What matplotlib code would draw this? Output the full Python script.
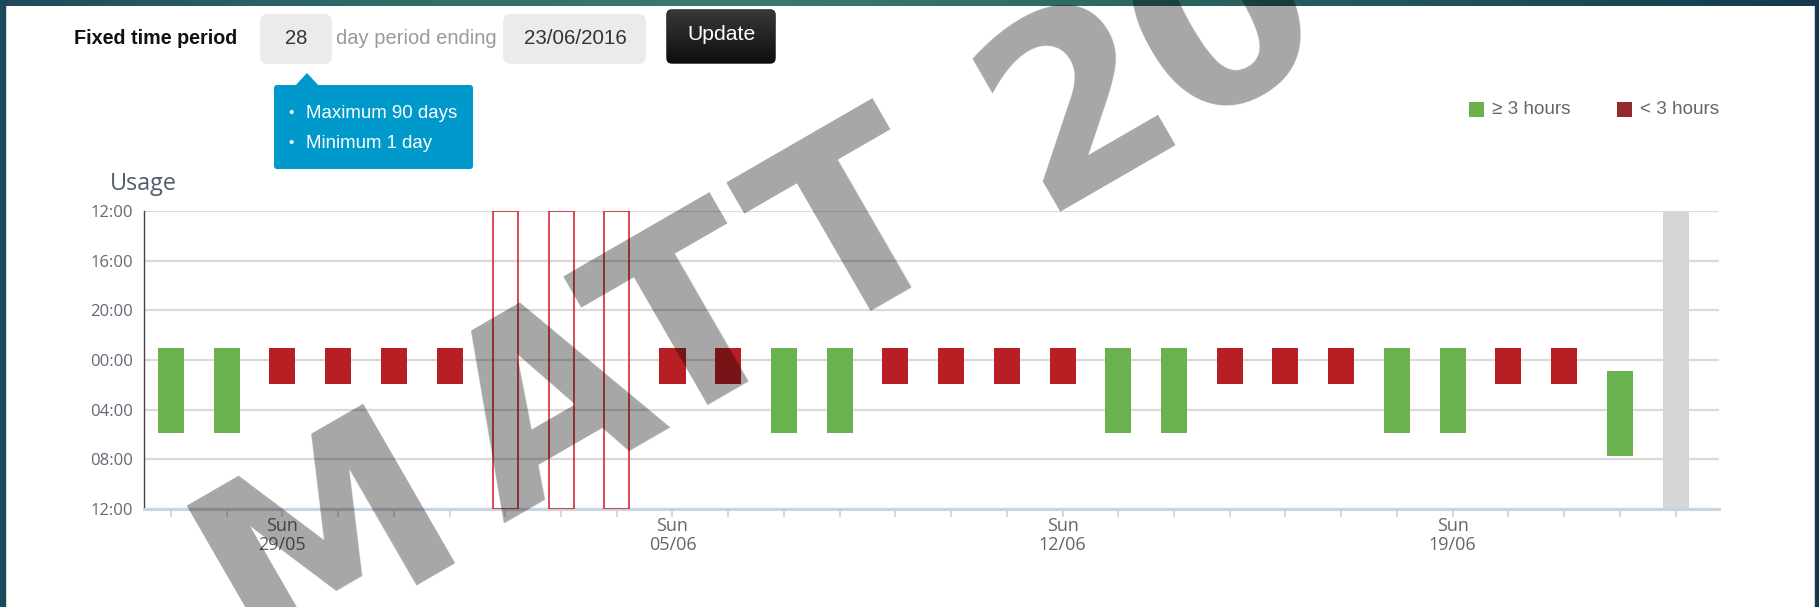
import matplotlib
matplotlib.use("Agg")
import matplotlib.pyplot as plt
import numpy as np
import pandas as pd
from matplotlib.patches import Rectangle, FancyBboxPatch, Polygon
from matplotlib.colors import LinearSegmentedColormap

# ---------------- data ----------------
days = pd.date_range("2016-05-27", "2016-06-23", freq="D")
status = ["good", "good", "short", "short", "short", "short",
          "missing", "missing", "missing",
          "short", "short", "good", "good",
          "short", "short", "short", "short", "good", "good",
          "short", "short", "short", "good", "good",
          "short", "short", "good", "today"]
# hours relative to midnight (negative = previous evening)
sleep_start = [-1.0, -1.0, -1.0, -1.0, -1.0, -1.0,
               np.nan, np.nan, np.nan,
               -1.0, -1.0, -1.0, -1.0,
               -1.0, -1.0, -1.0, -1.0, -1.0, -1.0,
               -1.0, -1.0, -1.0, -1.0, -1.0,
               -1.0, -1.0, 0.9, np.nan]
sleep_end = [5.9, 5.9, 1.95, 1.95, 1.95, 1.95,
             np.nan, np.nan, np.nan,
             1.95, 1.95, 5.9, 5.9,
             1.95, 1.95, 1.95, 1.95, 5.9, 5.9,
             1.95, 1.95, 1.95, 5.9, 5.9,
             1.95, 1.95, 7.75, np.nan]
y_ticks = [-12, -8, -4, 0, 4, 8, 12]
y_labels = ["12:00", "16:00", "20:00", "00:00", "04:00", "08:00", "12:00"]
legend_labels = ["\u2265 3 hours", "< 3 hours"]
period_days = "28"
period_end = "23/06/2016"
tooltip_lines = ["Maximum 90 days", "Minimum 1 day"]
watermark_letters = ["M", "A", "T", "T", "2", "0"]
watermark_offsets = [-23, 262, 437, 625, 883, 1050]   # px along the baseline

GREEN = "#6ab150"
RED = "#b81f25"
W, H = 1819, 607

fig = plt.figure(figsize=(W / 100, H / 100), dpi=100)
fig.patch.set_facecolor("white")

# ---------- background / UI axes (pixel coordinates) ----------
bg = fig.add_axes([0, 0, 1, 1], zorder=0)
bg.axis("off")

grad = np.linspace(0, 1, 256)[None, :]
cmap = LinearSegmentedColormap.from_list(
    "top", ["#1d4b5b", "#2f6a68", "#3d7a6e", "#2d6a62", "#1f525c", "#143a4c"])
bg.imshow(grad, extent=[0, W, 6, 0], aspect="auto", cmap=cmap, zorder=1)
bg.add_patch(Rectangle((0, 0), 5, H, color="#1b4a5a", zorder=1))
bg.add_patch(Rectangle((1815, 0), 4, H, color="#15394b", zorder=1))

SANS = ["Liberation Sans", "DejaVu Sans"]
bg.text(74, 38, "Fixed time period", fontsize=14.2, fontweight="bold",
        family=SANS, color="#111111", ha="left", va="center")
bg.add_patch(FancyBboxPatch((260, 14), 72, 50, boxstyle="round,pad=0,rounding_size=8",
                            fc="#ebebeb", ec="none"))
bg.text(296, 38, period_days, fontsize=14.5, family=SANS, color="#333333",
        ha="center", va="center")
bg.text(336, 38, "day period ending", fontsize=14.5, family=SANS, color="#9a9a9a",
        ha="left", va="center")
bg.add_patch(FancyBboxPatch((503, 14), 143, 50, boxstyle="round,pad=0,rounding_size=8",
                            fc="#ebebeb", ec="none"))
bg.text(575, 38, period_end, fontsize=14.8, family=SANS, color="#333333",
        ha="center", va="center")
btn = FancyBboxPatch((667, 10), 108, 53, boxstyle="round,pad=0,rounding_size=5",
                     fc="#1c1c1c", ec="#0a0a0a", lw=1)
bg.add_patch(btn)
bgrad = np.linspace(0, 1, 64)[:, None]
im = bg.imshow(bgrad, extent=[667, 775, 63, 10], aspect="auto",
               cmap=LinearSegmentedColormap.from_list("b", ["#383838", "#0e0e0e"]), zorder=2)
im.set_clip_path(btn)
bg.text(721, 35, "Update", fontsize=15.2, family=SANS, color="white",
        ha="center", va="center", zorder=3)
bg.set_xlim(0, W)
bg.set_ylim(H, 0)

# tooltip
BLUE = "#0099cc"
bg.add_patch(FancyBboxPatch((274, 85), 199, 84, boxstyle="round,pad=0,rounding_size=3",
                            fc=BLUE, ec="none"))
bg.add_patch(Polygon([(295, 86), (307, 73), (319, 86)], closed=True, fc=BLUE, ec="none"))
for i, line in enumerate(tooltip_lines):
    yy = 113 + 30 * i
    bg.text(291, yy, "\u2022", fontsize=11, family=SANS, color="white", ha="center", va="center")
    bg.text(306, yy, line, fontsize=13.4, family=SANS, color="white", ha="left", va="center")

# legend
leg_x = [1469, 1617]
leg_c = ["#6ab04c", "#962a2a"]
for x0, c, lab in zip(leg_x, leg_c, legend_labels):
    bg.add_patch(Rectangle((x0, 102), 15, 15, fc=c, ec="none"))
    bg.text(x0 + 23, 110, lab, fontsize=13.6, family=SANS, color="#666666",
            ha="left", va="center")

bg.text(110, 184, "Usage", fontsize=16.8, family=["Open Sans", "DejaVu Sans"],
        color="#4f5d6c", ha="left", va="center")

# ---------------- chart axes ----------------
L, R, T, B = 144, 1719, 211, 509
ax = fig.add_axes([L / W, 1 - B / H, (R - L) / W, (B - T) / H], zorder=1)
ax.set_facecolor("white")
x = np.arange(len(days))
ax.set_xlim(-0.484, 27.78)
ax.set_ylim(12, -12)

ax.set_yticks(y_ticks)
ax.set_yticklabels(y_labels, family=["Open Sans", "DejaVu Sans"], fontsize=12, color="#626a73")
ax.tick_params(axis="y", length=0, pad=8)
ax.yaxis.grid(True, color="#dadada", lw=1.6)
ax.set_axisbelow(True)

sundays = [i for i, d in enumerate(days) if d.dayofweek == 6]
ax.set_xticks(x, minor=True)
ax.set_xticks(sundays)
ax.set_xticklabels([days[i].strftime("Sun\n%d/%m") for i in sundays],
                   family=["Open Sans", "DejaVu Sans"], fontsize=13, color="#666666",
                   linespacing=1.05)
ax.tick_params(axis="x", which="both", direction="out", length=6, width=1.2,
               color="#c6d3e0", pad=0)

for s in ["top", "right"]:
    ax.spines[s].set_visible(False)
ax.spines["left"].set_color("#444444")
ax.spines["left"].set_linewidth(1.0)
ax.spines["bottom"].set_color("#c8d4e0")
ax.spines["bottom"].set_linewidth(2.2)

bar_w = 0.467
for i, (st, s0, s1) in enumerate(zip(status, sleep_start, sleep_end)):
    if st in ("good", "short"):
        ax.bar(i, s1 - s0, bottom=s0, width=bar_w,
               color=GREEN if st == "good" else RED, zorder=3)
    elif st == "missing":
        ax.bar(i, 24, bottom=-12, width=0.45, fill=False,
               edgecolor="#d42a30", lw=1.2, zorder=3)
    elif st == "today":
        ax.bar(i, 24, bottom=-12, width=bar_w, color="#d6d6d6", zorder=2.5)

# ---------------- watermark overlay ----------------
ov = fig.add_axes([0, 0, 1, 1], zorder=10)
ov.set_xlim(0, W)
ov.set_ylim(H, 0)
ov.axis("off")
ov.patch.set_alpha(0)
ang = np.deg2rad(30)
ox, oy = 275.5, 653.5
for ch, s in zip(watermark_letters, watermark_offsets):
    ov.text(ox + s * np.cos(ang), oy - s * np.sin(ang), ch, fontsize=181,
            fontweight="bold", family="DejaVu Sans", color="black", alpha=0.35,
            rotation=30, rotation_mode="anchor", ha="left", va="baseline")

fig.savefig("out.png", dpi=100)
